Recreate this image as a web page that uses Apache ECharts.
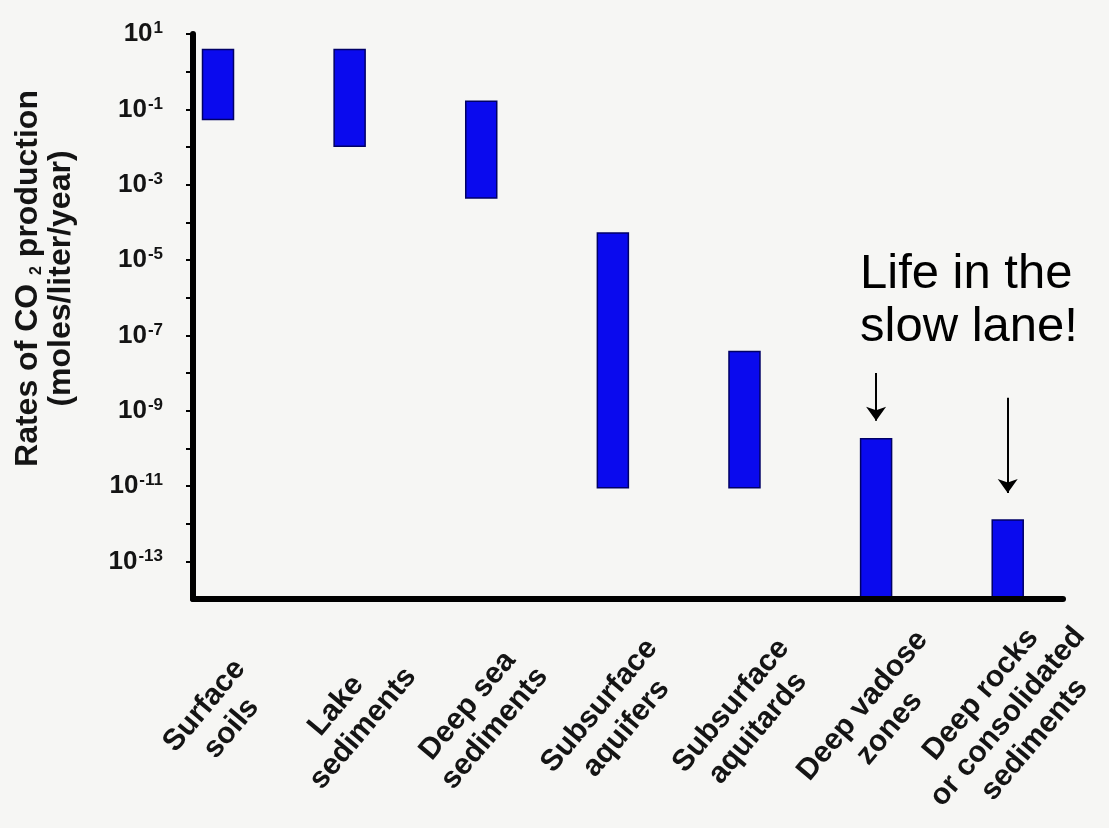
<!DOCTYPE html>
<html>
<head>
<meta charset="utf-8">
<title>Rates of CO2 production</title>
<script src="https://cdn.jsdelivr.net/npm/echarts@6/dist/echarts.min.js"></script>
<style>
  html, body { margin: 0; padding: 0; background: #f6f6f4; }
  #chart { width: 1109px; height: 828px; }
</style>
</head>
<body>
<div id="chart"></div>
<script>
// environments, left to right
var categories = [
    'Surface\nsoils',
    'Lake\nsediments',
    'Deep sea\nsediments',
    'Subsurface\naquifers',
    'Subsurface\naquitards',
    'Deep vadose\nzones',
    'Deep rocks\nor consolidated\nsediments'
];
// range of CO2 production rates (moles/liter/year)
var rateLow  = [0.054, 0.0105, 4.4e-4, 9e-12, 9e-12, 1e-14, 1e-14];
var rateHigh = [3.9,   3.9,    0.163,  5.2e-5, 3.7e-8, 1.8e-10, 1.25e-12];
// tick values on the y axis
var tickValues  = [1e1, 1e0, 1e-1, 1e-2, 1e-3, 1e-4, 1e-5, 1e-6, 1e-7, 1e-8, 1e-9, 1e-10, 1e-11, 1e-12, 1e-13];
var labelValues = [1e1, 1e-1, 1e-3, 1e-5, 1e-7, 1e-9, 1e-11, 1e-13];
// "slow lane" arrows: [category index, start value, tip value]
var arrows = [
    [5, 1e-8, 5.4e-10],
    [6, 2.2e-9, 6.5e-12]
];

var chart = echarts.init(document.getElementById('chart'));

var barData = categories.map(function (c, i) {
    return [i, rateLow[i], rateHigh[i]];
});

var font = 'Liberation Sans, Arial, sans-serif';

var option = {
    backgroundColor: '#f6f6f4',
    animation: false,
    grid: { left: 193, top: 34, right: 46, bottom: 229, outerBoundsMode: 'none' },
    xAxis: {
        type: 'value',
        min: -0.19,
        max: 6.42,
        z: 5,
        axisLine: { show: true, onZero: false, lineStyle: { color: '#000', width: 6 } },
        axisTick: { show: false },
        splitLine: { show: false },
        axisLabel: {
            customValues: [0, 1, 2, 3, 4, 5, 6],
            rotate: 50,
            align: 'center',
            verticalAlign: 'middle',
            margin: 118,
            formatter: function (v) {
                return categories[Math.round(v)].split('\n').map(function (s) {
                    return '{c|' + s + '}';
                }).join('\n');
            },
            rich: {
                c: {
                    align: 'center',
                    fontFamily: font,
                    fontSize: 30,
                    fontWeight: 'bold',
                    color: '#141414',
                    lineHeight: 35
                }
            }
        }
    },
    yAxis: {
        type: 'log',
        logBase: 10,
        min: 1e-14,
        max: 1e1,
        z: 5,
        name: 'Rates of CO {sub|2} production\n(moles/liter/year)',
        nameLocation: 'middle',
        nameRotate: 90,
        nameGap: 115,
        nameTextStyle: {
            fontFamily: font,
            fontSize: 32,
            fontWeight: 'bold',
            color: '#141414',
            lineHeight: 33,
            padding: [0, 0, 0, 76],
            rich: {
                sub: { fontFamily: font, fontSize: 16, fontWeight: 'bold', color: '#141414', verticalAlign: 'bottom', lineHeight: 33 }
            }
        },
        axisLine: { show: true, onZero: false, lineStyle: { color: '#000', width: 6 } },
        axisTick: {
            show: true,
            customValues: tickValues,
            length: 7,
            lineStyle: { color: '#000', width: 2 }
        },
        splitLine: { show: false },
        axisLabel: {
            customValues: labelValues,
            margin: 30,
            formatter: function (v) {
                var e = Math.round(Math.log10(v));
                return '{b|10}{s|' + e + '}';
            },
            rich: {
                b: { fontFamily: font, fontSize: 26, fontWeight: 'bold', color: '#141414', lineHeight: 28 },
                s: { fontFamily: font, fontSize: 17, fontWeight: 'bold', color: '#141414', verticalAlign: 'top', lineHeight: 28, padding: [0, 0, 12, 1] }
            }
        }
    },
    graphic: [{
        type: 'text',
        left: 860,
        top: 248,
        style: {
            text: 'Life in the\nslow lane!',
            font: '49px "Liberation Sans", Arial, sans-serif',
            fill: '#000',
            lineHeight: 53
        }
    }],
    series: [{
        type: 'custom',
        data: barData,
        encode: { x: 0, y: [1, 2] },
        renderItem: function (params, api) {
            var lo = api.coord([api.value(0), api.value(1)]);
            var hi = api.coord([api.value(0), api.value(2)]);
            var w = 31;
            return {
                type: 'rect',
                shape: { x: lo[0] - w / 2, y: hi[1], width: w, height: lo[1] - hi[1] },
                style: { fill: '#0a0aee', stroke: '#000066', lineWidth: 1.5 }
            };
        },
        markLine: {
            silent: true,
            symbol: ['none', 'arrow'],
            symbolSize: [15, 14],
            label: { show: false },
            lineStyle: { color: '#000', width: 2, type: 'solid' },
            data: arrows.map(function (a) {
                return [{ coord: [a[0], a[1]] }, { coord: [a[0], a[2]] }];
            })
        }
    }]
};

chart.setOption(option);
window.addEventListener('resize', function () {
    chart.resize();
});
</script>
</body>
</html>
